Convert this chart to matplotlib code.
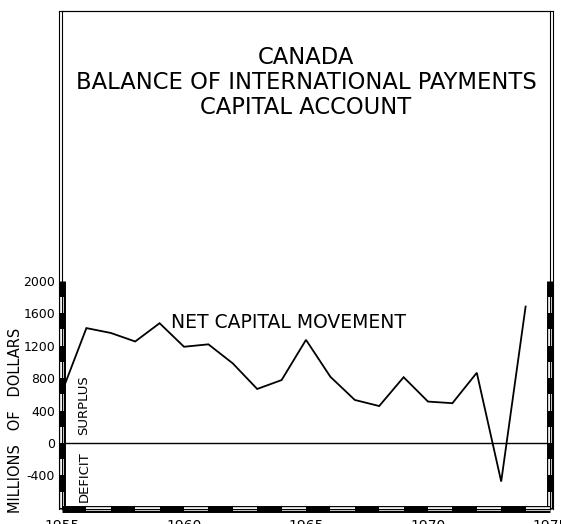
import matplotlib
matplotlib.use('Agg')
import matplotlib.pyplot as plt

years = [1955, 1956, 1957, 1958, 1959, 1960, 1961, 1962, 1963, 1964,
         1965, 1966, 1967, 1968, 1969, 1970, 1971, 1972, 1973, 1974]
net_capital = [630, 1415, 1355, 1250, 1475, 1185, 1215, 980, 665, 775,
               1270, 815, 530, 455, 810, 510, 490, 865, -475, 1680]
ytick_vals = [-400, 0, 400, 800, 1200, 1600, 2000]
xtick_vals = [1955, 1960, 1965, 1970, 1975]

W, H = 561, 524
fig = plt.figure(figsize=(W / 100, H / 100), dpi=100)

# outer thin frame line (double border look)
outer = fig.add_axes([59 / W, (H - 509) / H, (553 - 59) / W, (509 - 11) / H])
outer.set_xticks([])
outer.set_yticks([])
outer.patch.set_alpha(0)
outer.spines['bottom'].set_visible(False)
for s in ['left', 'right', 'top']:
    outer.spines[s].set_linewidth(0.8)

ax = fig.add_axes([62 / W, (H - 509) / H, (550 - 62) / W, (509 - 11) / H])
ax.patch.set_alpha(0)
ymin, ymax = -813, 5320
ax.set_xlim(1955, 1975)
ax.set_ylim(ymin, ymax)
for s in ax.spines.values():
    s.set_linewidth(0.8)

ax.plot(years, net_capital, color='black', lw=1.3, solid_joinstyle='miter')
ax.axhline(0, color='black', lw=1.0)

# patterned scale bars on left, right and bottom
def bar_v(x, lo, hi, step):
    ax.plot([x, x], [lo, hi], color='black', lw=5, clip_on=False, solid_capstyle='butt')
    y = hi
    k = 0
    while y > lo:
        y2 = max(y - step, lo)
        if k % 2 == 1:
            ax.plot([x, x], [y2, y], color='white', lw=2.6, clip_on=False, solid_capstyle='butt')
        y = y2
        k += 1

bar_v(1955, ymin, 2000, 200)
bar_v(1975, ymin, 2000, 200)

ax.plot([1955, 1975], [ymin, ymin], color='black', lw=5, clip_on=False, solid_capstyle='butt')
for yr in range(1955, 1975):
    if (yr - 1955) % 2 == 1:
        ax.plot([yr, yr + 1], [ymin, ymin], color='white', lw=2.6, clip_on=False,
                solid_capstyle='butt')

ax.set_yticks(ytick_vals)
ax.set_yticklabels([str(v) for v in ytick_vals], fontsize=9)
ax.set_xticks(xtick_vals)
ax.set_xticklabels([str(v) for v in xtick_vals], fontsize=10)
ax.tick_params(axis='y', length=0, pad=5)
ax.tick_params(axis='x', length=0, pad=7)

ax.set_ylabel('MILLIONS   OF   DOLLARS', fontsize=10.5)
ax.yaxis.set_label_coords(-0.08, 0.177)

ax.text(0.5, 0.857, 'CANADA\nBALANCE OF INTERNATIONAL PAYMENTS\nCAPITAL ACCOUNT',
        transform=ax.transAxes, ha='center', va='center', fontsize=16.3,
        linespacing=1.1)
ax.text(1959.47, 1480, 'NET CAPITAL MOVEMENT', fontsize=13.5, ha='left', va='center')
ax.text(1955.9, 470, 'SURPLUS', rotation=90, fontsize=9.5, ha='center', va='center')
ax.text(1955.9, -410, 'DEFICIT', rotation=90, fontsize=9.5, ha='center', va='center')

fig.savefig('out.png', dpi=100)
